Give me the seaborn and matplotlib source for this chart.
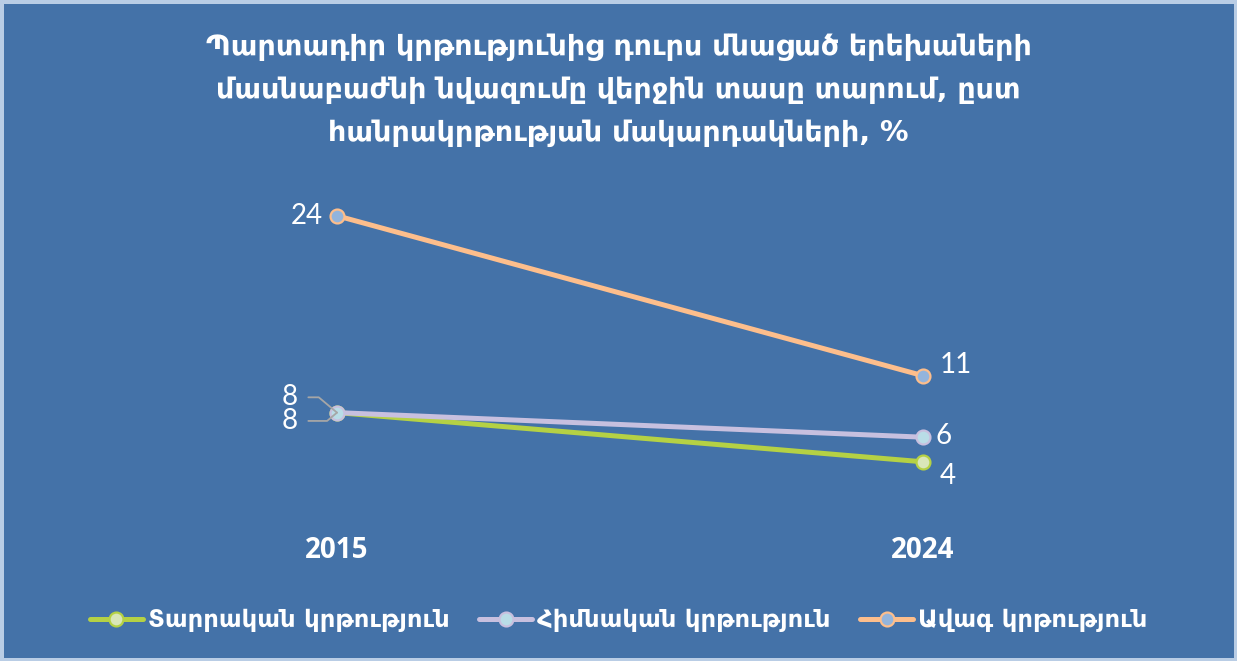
import matplotlib
matplotlib.use("Agg")
import matplotlib.pyplot as plt
import seaborn as sns
import pandas as pd
from matplotlib.lines import Line2D

years = ["2015", "2024"]
series_names = ["Տարրական կրթություն", "Հիմնական կրթություն", "Ավագ կրթություն"]
primary = [8, 4]
basic = [8, 6]
secondary = [24, 11]
title = ("Պարտադիր կրթությունից դուրս մնացած երեխաների\n"
         "մասնաբաժնի նվազումը վերջին տասը տարում, ըստ\n"
         "հանրակրթության մակարդակների, %")

line_colors = ["#B5D144", "#C8C0DF", "#FDBE8C"]
marker_faces = ["#D9E6B8", "#B9DDE7", "#93B4DC"]
bg = "#4472A8"

rows = []
for name, vals in zip(series_names, [primary, basic, secondary]):
    for y, v in zip(years, vals):
        rows.append({"year": y, "value": v, "series": name})
df = pd.DataFrame(rows)

sns.set_theme(style="white")
plt.rcParams['font.family'] = ['DejaVu Sans']

fig = plt.figure(figsize=(12.37, 6.61), dpi=100)
fig.patch.set_facecolor(bg)
fig.patch.set_edgecolor("#B9CDE5")
fig.patch.set_linewidth(5)

ax = fig.add_axes([44/1237, 150/661, 1172/1237, 369/661])
ax.set_facecolor(bg)

sns.lineplot(data=df, x="year", y="value", hue="series", hue_order=series_names,
             palette=line_colors, marker="o", markersize=10, linewidth=3.6,
             ax=ax, legend=False, sort=False)

for ln, lc, mf in zip(ax.lines, line_colors, marker_faces):
    ln.set_markerfacecolor(mf)
    ln.set_markeredgecolor(lc)
    ln.set_markeredgewidth(1.6)

ax.set_xlim(-0.5, 1.5)
ax.set_ylim(0, 30)
for s in ax.spines.values():
    s.set_visible(False)
ax.set_yticks([])
ax.set_xticks([0, 1])
ax.set_xticklabels(years)
for t in ax.get_xticklabels():
    t.set_fontfamily(["Open Sans", "DejaVu Sans"])
    t.set_fontweight("bold")
    t.set_fontsize(20)
    t.set_color("white")
ax.tick_params(axis="x", length=0, pad=18)
ax.set_xlabel("")
ax.set_ylabel("")

lab_kw = dict(color="white", fontsize=20, family=["Lato", "DejaVu Sans"],
              textcoords="offset points")
ax.annotate(str(secondary[0]), xy=(0, secondary[0]), xytext=(-10, 0),
            ha="right", va="center", **lab_kw)
ax.annotate(str(secondary[1]), xy=(1, secondary[1]), xytext=(12, 8),
            ha="left", va="center", **lab_kw)
ax.annotate(str(basic[1]), xy=(1, basic[1]), xytext=(9, 1),
            ha="left", va="center", **lab_kw)
ax.annotate(str(primary[1]), xy=(1, primary[1]), xytext=(12, -10),
            ha="left", va="center", **lab_kw)
# stacked 8 labels with leader lines
ax.annotate(str(basic[0]), xy=(0, basic[0]), xytext=(-28, 11),
            ha="right", va="center", **lab_kw,
            arrowprops=dict(arrowstyle="-", color="#A6A6A6", lw=1.3,
                            shrinkA=5, shrinkB=0,
                            connectionstyle="angle,angleA=0,angleB=-40,rad=0"))
ax.annotate(str(primary[0]), xy=(0, primary[0]), xytext=(-28, -6),
            ha="right", va="center", **lab_kw,
            arrowprops=dict(arrowstyle="-", color="#A6A6A6", lw=1.3,
                            shrinkA=5, shrinkB=0,
                            connectionstyle="angle,angleA=0,angleB=40,rad=0"))

fig.text(0.5, 0.95, title, ha="center", va="top", color="white",
         fontsize=20.5, fontweight="bold", linespacing=1.68)

handles = [Line2D([0], [0], color=lc, lw=3.6, marker="o", markersize=10,
                  markerfacecolor=mf, markeredgecolor=lc, markeredgewidth=1.6)
           for lc, mf in zip(line_colors, marker_faces)]
leg = fig.legend(handles, series_names, loc="center", bbox_to_anchor=(0.5, 0.062),
                 ncol=3, frameon=False, fontsize=17.5, handlelength=2.2,
                 handletextpad=0.2, columnspacing=1.2)
for t in leg.get_texts():
    t.set_color("white")
    t.set_fontweight("bold")

fig.savefig("out.png", dpi=100, facecolor=fig.get_facecolor(),
            edgecolor=fig.get_edgecolor())
